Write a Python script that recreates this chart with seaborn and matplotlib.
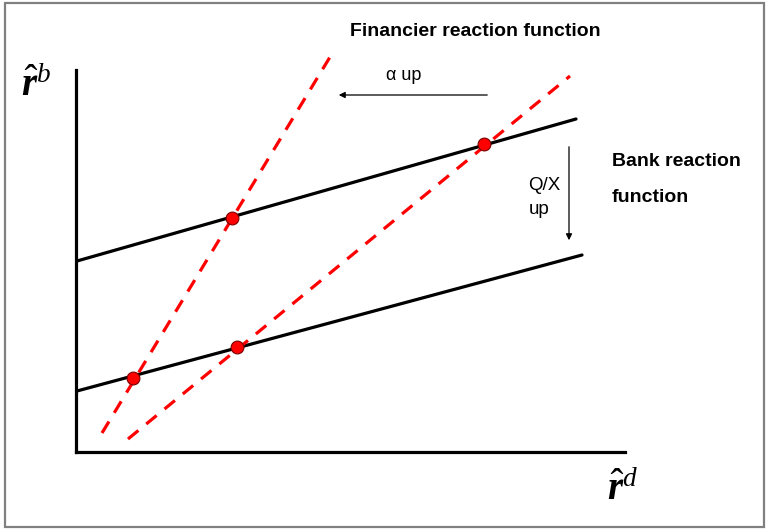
import matplotlib
matplotlib.use("Agg")
import matplotlib.pyplot as plt
import seaborn as sns
import pandas as pd
from matplotlib.patches import Rectangle

# ---- data (diagram units: origin at the axis corner) ----
bank_high_x = [1, 500]
bank_high_y = [191, 333]
bank_low_x = [1, 506]
bank_low_y = [61, 197]
fin_steep_x = [26, 254]
fin_steep_y = [19, 395]
fin_flat_x = [52, 494]
fin_flat_y = [13, 376]
eq_x = [156, 408, 57, 161]
eq_y = [234, 308, 74, 105]

W, H = 769, 529
sns.set_style("white")
plt.rcParams['font.family'] = ['Liberation Sans', 'DejaVu Sans']
plt.rcParams['text.color'] = 'black'
plt.rcParams['mathtext.fontset'] = 'custom'
plt.rcParams['mathtext.rm'] = 'Liberation Serif'
plt.rcParams['mathtext.it'] = 'Liberation Serif:italic'
plt.rcParams['mathtext.bf'] = 'Liberation Serif:bold'
plt.rcParams['mathtext.bfit'] = 'Liberation Serif:bold:italic'
fig = plt.figure(figsize=(W / 100, H / 100), dpi=100)

ax = fig.add_axes([76 / W, (H - 452) / H, 549 / W, 382 / H])
ax.set_xlim(0, 549)
ax.set_ylim(0, 382)
ax.set_facecolor('none')
for s in ['top', 'right']:
    ax.spines[s].set_visible(False)
for s in ['left', 'bottom']:
    ax.spines[s].set_linewidth(2.3)
    ax.spines[s].set_color('black')
ax.set_xticks([])
ax.set_yticks([])

# bank reaction functions
for xs, ys in [(bank_high_x, bank_high_y), (bank_low_x, bank_low_y)]:
    sns.lineplot(x=xs, y=ys, ax=ax, color='black', linewidth=2.3, clip_on=False)

# financier reaction functions
for xs, ys in [(fin_steep_x, fin_steep_y), (fin_flat_x, fin_flat_y)]:
    sns.lineplot(x=xs, y=ys, ax=ax, color='#ff0000', linewidth=2.3,
                 linestyle=(0, (4.2, 3.2)), clip_on=False)

pts = pd.DataFrame({'x': eq_x, 'y': eq_y})
sns.scatterplot(data=pts, x='x', y='y', ax=ax, color='#ff0000', s=85,
                edgecolor='#7a0000', linewidth=0.8, zorder=5, clip_on=False)
ax.set_xlabel('')
ax.set_ylabel('')

# arrows
ax.annotate('', xy=(260, 357), xytext=(414, 357), annotation_clip=False,
            arrowprops=dict(arrowstyle='-|>', color='black', lw=0.9,
                            mutation_scale=9))
ax.annotate('', xy=(493, 209), xytext=(493, 308), annotation_clip=False,
            arrowprops=dict(arrowstyle='-|>', color='black', lw=0.9,
                            mutation_scale=9))

# texts
ax.text(399, 420, 'Financier reaction function', fontsize=14, fontweight='bold',
        ha='center', va='center', color='black')
ax.text(310, 376, 'α up', fontsize=13, ha='left', va='center', color='black')
ax.text(452, 266, 'Q/X', fontsize=13.5, ha='left', va='center', color='black')
ax.text(453, 242, 'up', fontsize=13.5, ha='left', va='center', color='black')
ax.text(536, 290, 'Bank reaction', fontsize=14, fontweight='bold',
        ha='left', va='center', color='black')
ax.text(536, 254, 'function', fontsize=14, fontweight='bold',
        ha='left', va='center', color='black')
ax.text(-55, 367, r'$\hat{\mathbfit{r}}^{b}$', fontsize=28, ha='left',
        va='center', color='black')
ax.text(531, -37, r'$\hat{\mathbfit{r}}^{d}$', fontsize=28, ha='left',
        va='center', color='black')

# outer frame
fig.patches.append(Rectangle((5 / W, 2 / H), 759 / W, 524 / H, fill=False,
                             edgecolor='#808080', linewidth=1.6,
                             transform=fig.transFigure, figure=fig))

fig.savefig('out.png', dpi=100, facecolor='white')
